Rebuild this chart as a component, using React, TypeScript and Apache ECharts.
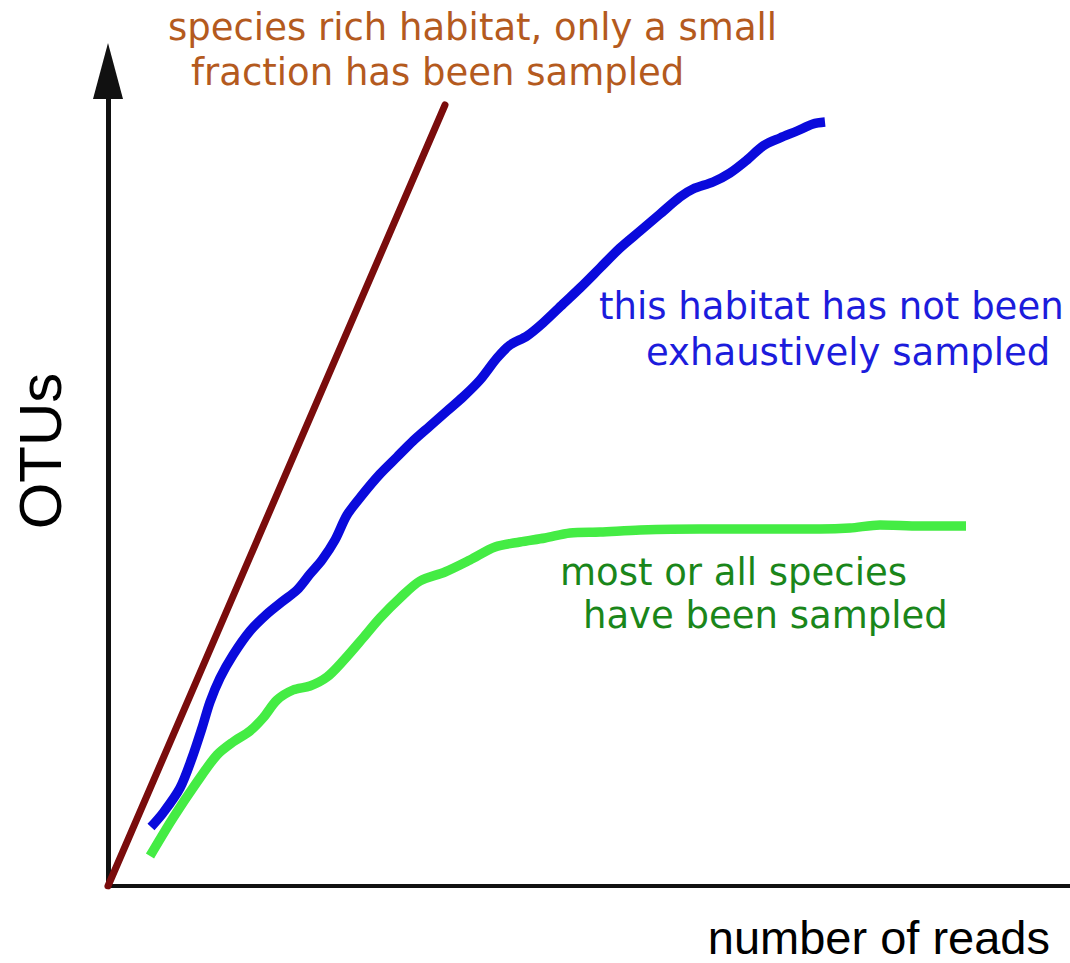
import React, { useEffect, useRef } from "react";
import * as echarts from "echarts";

// Data (x: number of reads, y: OTUs, arbitrary units)
const X_MAX = 962;
const Y_MAX = 815;

const richHabitat: number[][] = [
  [0, 0],
  [337, 781],
];

const notExhaustive: number[][] = [
  [43, 59], [55, 73], [72, 98], [84, 128], [94, 158], [102, 184], [112, 208],
  [125, 231], [142, 255], [159, 272], [175, 285], [189, 296], [202, 312],
  [214, 326], [227, 346], [239, 371], [255, 392], [272, 412], [289, 429],
  [305, 445], [322, 460], [339, 475], [355, 489], [372, 506], [389, 528],
  [402, 541], [419, 550], [435, 563], [455, 582], [472, 598], [492, 618],
  [512, 638], [532, 655], [552, 672], [572, 689], [585, 697], [605, 704],
  [622, 713], [639, 726], [655, 740], [672, 748], [689, 755], [705, 762],
  [717, 764],
];

const saturated: number[][] = [
  [42, 30], [65, 68], [89, 104], [109, 131], [125, 144], [142, 155], [155, 168],
  [169, 186], [185, 196], [202, 200], [219, 209], [235, 225], [255, 248],
  [272, 268], [292, 288], [312, 305], [337, 314], [362, 326], [387, 339],
  [412, 344], [437, 348], [462, 353], [492, 354], [532, 356], [592, 357],
  [652, 357], [712, 357], [742, 358], [772, 361], [812, 360], [858, 360],
];

const richLabel = ["species rich habitat, only a small", "fraction has been sampled"];
const blueLabel = ["this habitat has not been", "exhaustively sampled"];
const greenLabel = ["most or all species", "have been sampled"];
const xTitle = "number of reads";
const yTitle = "OTUs";

const ANN_FONT = "'DejaVu Sans', sans-serif";
const AX_FONT = "'Liberation Sans', Arial, sans-serif";

function annText(text: string, x: number, y: number, color: string) {
  return {
    type: "text",
    x,
    y,
    style: {
      text,
      fill: color,
      font: `37px ${ANN_FONT}`,
      textAlign: "left",
      textVerticalAlign: "middle",
    },
  };
}

export default function App() {
  const ref = useRef<HTMLDivElement>(null);

  useEffect(() => {
    if (!ref.current) return;
    const chart = echarts.init(ref.current, undefined, { renderer: "svg" });
    chart.setOption({
      animation: false,
      backgroundColor: "#ffffff",
      grid: { left: 108, right: 0, top: 71, bottom: 77, containLabel: false },
      xAxis: {
        type: "value",
        min: 0,
        max: X_MAX,
        axisLine: { show: true, onZero: false, lineStyle: { color: "#111111", width: 4 } },
        axisTick: { show: false },
        axisLabel: { show: false },
        splitLine: { show: false },
      },
      yAxis: {
        type: "value",
        min: 0,
        max: Y_MAX,
        axisLine: {
          show: true,
          onZero: false,
          symbol: ["none", "triangle"],
          symbolSize: [30, 56],
          lineStyle: { color: "#111111", width: 5 },
        },
        axisTick: { show: false },
        axisLabel: { show: false },
        splitLine: { show: false },
      },
      series: [
        {
          type: "line",
          name: "rich",
          data: richHabitat,
          symbol: "none",
          lineStyle: { color: "#7a0c0c", width: 7, cap: "round" },
          z: 3,
        },
        {
          type: "line",
          name: "not exhaustive",
          data: notExhaustive,
          symbol: "none",
          smooth: 0.3,
          lineStyle: { color: "#0a0adc", width: 9.5, cap: "butt" },
          z: 2,
        },
        {
          type: "line",
          name: "saturated",
          data: saturated,
          symbol: "none",
          smooth: 0.3,
          lineStyle: { color: "#44ec44", width: 9.5, cap: "butt" },
          z: 2,
        },
      ],
      graphic: [
        annText(richLabel[0], 168, 27, "#b45a1e"),
        annText(richLabel[1], 191, 72, "#b45a1e"),
        annText(blueLabel[0], 599, 306, "#1c1cdc"),
        annText(blueLabel[1], 646, 352, "#1c1cdc"),
        annText(greenLabel[0], 560, 572, "#1a861a"),
        annText(greenLabel[1], 583, 615, "#1a861a"),
        {
          type: "text",
          x: 1050,
          y: 937,
          style: {
            text: xTitle,
            fill: "#000000",
            font: `47px ${AX_FONT}`,
            textAlign: "right",
            textVerticalAlign: "middle",
          },
        },
        {
          type: "text",
          x: 40,
          y: 451,
          rotation: Math.PI / 2,
          style: {
            text: yTitle,
            fill: "#000000",
            font: `60px ${AX_FONT}`,
            textAlign: "center",
            textVerticalAlign: "middle",
          },
        },
      ],
    });
    return () => chart.dispose();
  }, []);

  return (
    <div
      ref={ref}
      style={{ position: "absolute", left: 0, top: 0, width: 1070, height: 963, background: "#fff" }}
    />
  );
}
